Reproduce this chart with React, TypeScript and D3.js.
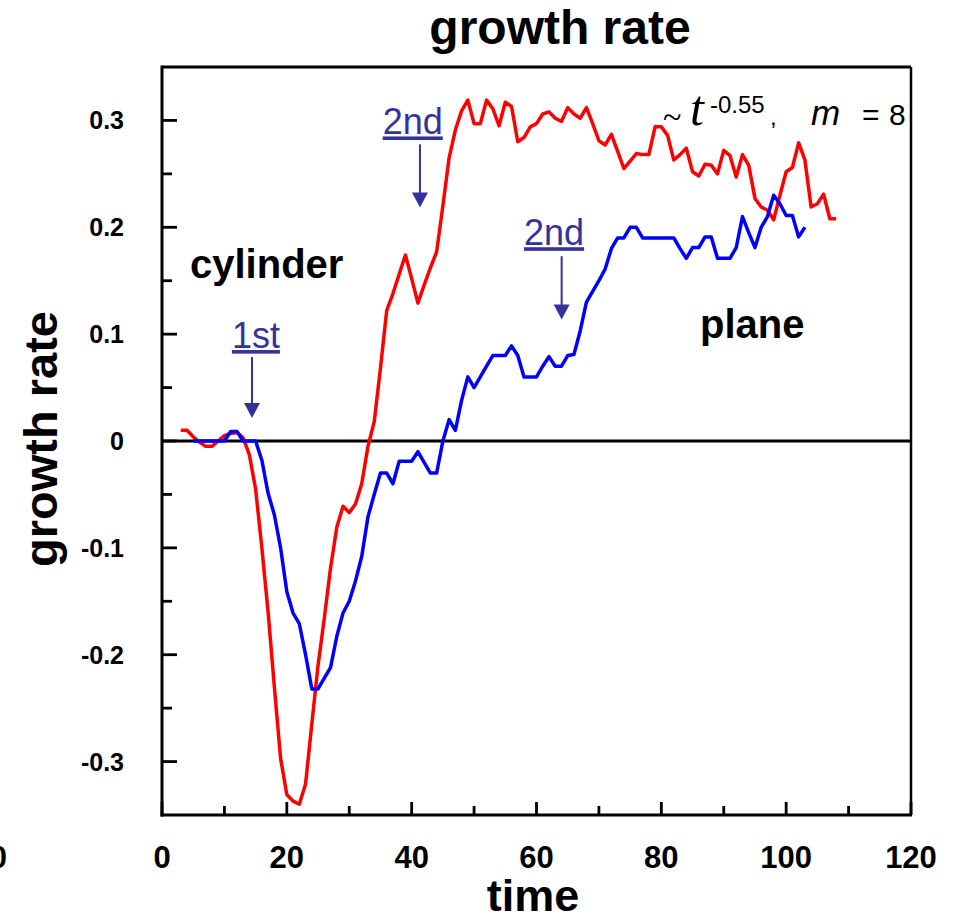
import React from "react";
import * as d3 from "d3";

const cylinderTime = [3,4,5,6,7,8,9,10,11,12,13,14,15,16,17,18,19,20,21,22,23,24,25,26,27,28,29,30,31,32,33,34,35,36,37,38,39,40,41,42,43,44,45,46,47,48,49,50,51,52,53,54,55,56,57,58,59,60,61,62,63,64,65,66,67,68,69,70,71,72,73,74,75,76,77,78,79,80,81,82,83,84,85,86,87,88,89,90,91,92,93,94,95,96,97,98,99,100,101,102,103,104,105,106,107,108];
const cylinderRate = [0.010,0.010,0.004,-0.001,-0.005,-0.005,0.000,0.005,0.007,0.008,0.003,-0.013,-0.045,-0.100,-0.160,-0.230,-0.297,-0.331,-0.337,-0.340,-0.321,-0.265,-0.210,-0.166,-0.119,-0.081,-0.061,-0.067,-0.059,-0.040,-0.005,0.018,0.068,0.122,0.138,0.156,0.174,0.152,0.129,0.146,0.162,0.177,0.220,0.265,0.291,0.309,0.319,0.297,0.297,0.319,0.311,0.295,0.317,0.313,0.280,0.284,0.294,0.297,0.306,0.308,0.302,0.299,0.312,0.306,0.302,0.312,0.297,0.281,0.277,0.287,0.271,0.255,0.262,0.269,0.268,0.268,0.294,0.294,0.286,0.263,0.268,0.274,0.252,0.248,0.259,0.258,0.250,0.272,0.267,0.247,0.268,0.258,0.227,0.219,0.216,0.207,0.230,0.252,0.256,0.279,0.263,0.219,0.222,0.231,0.208,0.208];

const planeTime = [5,6,7,8,9,10,11,12,13,14,15,16,17,18,19,20,21,22,23,24,25,26,27,28,29,30,31,32,33,34,35,36,37,38,39,40,41,42,43,44,45,46,47,48,49,50,51,52,53,54,55,56,57,58,59,60,61,62,63,64,65,66,67,68,69,70,71,72,73,74,75,76,77,78,79,80,81,82,83,84,85,86,87,88,89,90,91,92,93,94,95,96,97,98,99,100,101,102,103];
const planeRate = [0,0,0,0,0,0,0.009,0.009,0,0,0,-0.018,-0.049,-0.069,-0.100,-0.141,-0.161,-0.171,-0.200,-0.232,-0.232,-0.222,-0.212,-0.183,-0.161,-0.150,-0.131,-0.108,-0.071,-0.050,-0.030,-0.030,-0.040,-0.019,-0.019,-0.019,-0.010,-0.020,-0.030,-0.030,0.000,0.020,0.010,0.038,0.060,0.050,0.060,0.070,0.080,0.080,0.080,0.089,0.080,0.060,0.060,0.060,0.070,0.079,0.070,0.070,0.080,0.081,0.103,0.130,0.140,0.150,0.161,0.180,0.190,0.190,0.200,0.200,0.190,0.190,0.190,0.190,0.190,0.190,0.180,0.171,0.181,0.181,0.191,0.191,0.171,0.171,0.171,0.181,0.210,0.195,0.181,0.200,0.210,0.230,0.222,0.211,0.211,0.191,0.200];

const xMajorTicks = [0, 20, 40, 60, 80, 100, 120];
const xMinorTicks = [10, 30, 50, 70, 90, 110];
const yMajorTicks = [-0.3, -0.2, -0.1, 0, 0.1, 0.2, 0.3];
const yMinorTicks = [-0.25, -0.15, -0.05, 0.05, 0.15, 0.25];
const yTickLabels = ["-0.3", "-0.2", "-0.1", "0", "0.1", "0.2", "0.3"];

// arrow annotations in data coordinates
const arrowLabels = ["1st", "2nd", "2nd"];
const arrowTimes = [14.42, 41.33, 64.03];
const arrowTops = [0.0785, 0.2776, 0.1729];
const arrowTips = [0.0215, 0.2184, 0.1137];
const arrowTextTimes = [11.2, 35.36, 58.0];
const arrowTextRates = [0.087, 0.2869, 0.1832];

const W = 955, H = 922;
const FONT = "'Liberation Sans', Arial, Helvetica, sans-serif";
const SERIF = "'Liberation Serif', 'Times New Roman', serif";
const ANN = "#333399";

export default function App() {
  const x = d3.scaleLinear().domain([0, 120]).range([162, 911]);
  const y = d3.scaleLinear().domain([-0.35, 0.35]).range([815, 67]);
  const line = d3.line<[number, number]>().x(d => x(d[0])).y(d => y(d[1]));
  const red = line(cylinderTime.map((t, i) => [t, cylinderRate[i]] as [number, number])) || "";
  const blue = line(planeTime.map((t, i) => [t, planeRate[i]] as [number, number])) || "";
  const [x0, x1] = x.range();
  const [yb, yt] = y.range();

  return (
    <svg width={W} height={H} viewBox={`0 0 ${W} ${H}`} style={{ position: "absolute", left: 0, top: 0, background: "#fff" }}>
      <rect x={0} y={0} width={W} height={H} fill="#fff" />
      {/* title */}
      <text x={560} y={44} textAnchor="middle" fontFamily={FONT} fontWeight="bold" fontSize={48}>growth rate</text>
      {/* y label */}
      <text transform={`translate(57,439) rotate(-90)`} textAnchor="middle" fontFamily={FONT} fontWeight="bold" fontSize={47}>growth rate</text>
      {/* x label */}
      <text x={533} y={911} textAnchor="middle" fontFamily={FONT} fontWeight="bold" fontSize={45}>time</text>

      {/* zero line */}
      <line x1={x0} x2={x1} y1={y(0)} y2={y(0)} stroke="#000" strokeWidth={2.8} />

      {/* data */}
      <path d={red} fill="none" stroke="#ff0000" strokeWidth={3.5} strokeLinejoin="round" />
      <path d={blue} fill="none" stroke="#0000ff" strokeWidth={3.5} strokeLinejoin="round" />

      {/* frame */}
      <line x1={x0} x2={x1} y1={yt} y2={yt} stroke="#000" strokeWidth={3} />
      <line x1={x1} x2={x1} y1={yt} y2={yb} stroke="#000" strokeWidth={2.5} />
      <line x1={x0} x2={x0} y1={yt - 1.5} y2={yb + 1.5} stroke="#000" strokeWidth={3} />
      <line x1={x0 - 1.5} x2={x1 + 1} y1={yb} y2={yb} stroke="#000" strokeWidth={3} />

      {/* y ticks */}
      {yMajorTicks.map(v => (
        <line key={"ym" + v} x1={x0} x2={x0 + 15} y1={y(v)} y2={y(v)} stroke="#000" strokeWidth={2.8} />
      ))}
      {yMinorTicks.map(v => (
        <line key={"yn" + v} x1={x0} x2={x0 + 10} y1={y(v)} y2={y(v)} stroke="#000" strokeWidth={2.8} />
      ))}
      {yMajorTicks.map((v, i) => (
        <text key={"yl" + v} x={124} y={y(v) + 9} textAnchor="end" fontFamily={FONT} fontWeight="bold" fontSize={25}>{yTickLabels[i]}</text>
      ))}
      {/* x ticks */}
      {xMajorTicks.map(v => (
        <line key={"xm" + v} x1={x(v)} x2={x(v)} y1={yb} y2={yb - 13} stroke="#000" strokeWidth={2.8} />
      ))}
      {xMinorTicks.map(v => (
        <line key={"xn" + v} x1={x(v)} x2={x(v)} y1={yb} y2={yb - 9} stroke="#000" strokeWidth={2.8} />
      ))}
      {xMajorTicks.map(v => (
        <text key={"xl" + v} x={x(v)} y={868} textAnchor="middle" fontFamily={FONT} fontWeight="bold" fontSize={31}>{String(v)}</text>
      ))}
      {/* clipped stray label at the left edge */}
      <text x={7} y={868} textAnchor="end" fontFamily={FONT} fontWeight="bold" fontSize={31}>0</text>

      {/* labels */}
      <text x={190} y={278} fontFamily={FONT} fontWeight="bold" fontSize={40}>cylinder</text>
      <text x={700} y={338} fontFamily={FONT} fontWeight="bold" fontSize={40}>plane</text>

      {/* arrows */}
      {arrowLabels.map((lab, i) => {
        const ax = x(arrowTimes[i]);
        const top = y(arrowTops[i]);
        const tip = y(arrowTips[i]);
        const headH = 15;
        return (
          <g key={"ar" + i}>
            <text x={x(arrowTextTimes[i])} y={y(arrowTextRates[i])} fontFamily={FONT} fontSize={36} fill={ANN} textDecoration="underline">{lab}</text>
            <line x1={ax} x2={ax} y1={top} y2={tip - headH + 1} stroke={ANN} strokeWidth={2} />
            <path d={`M${ax - 8},${tip - headH} L${ax + 8},${tip - headH} L${ax},${tip} Z`} fill={ANN} />
          </g>
        );
      })}

      {/* power law annotation */}
      <text x={663} y={128} fontFamily={SERIF} fontSize={34}>~</text>
      <text x={690} y={125} fontFamily={SERIF} fontStyle="italic" fontSize={50}>t</text>
      <text x={710} y={113} fontFamily={FONT} fontSize={24}>-0.55</text>
      <text x={770} y={125} fontFamily={FONT} fontSize={24}>,</text>
      <text x={811} y={125} fontFamily={FONT} fontStyle="italic" fontSize={35}>m</text>
      <text x={862} y={125} fontFamily={FONT} fontSize={30}>=</text>
      <text x={889} y={125} fontFamily={FONT} fontSize={30}>8</text>
    </svg>
  );
}
